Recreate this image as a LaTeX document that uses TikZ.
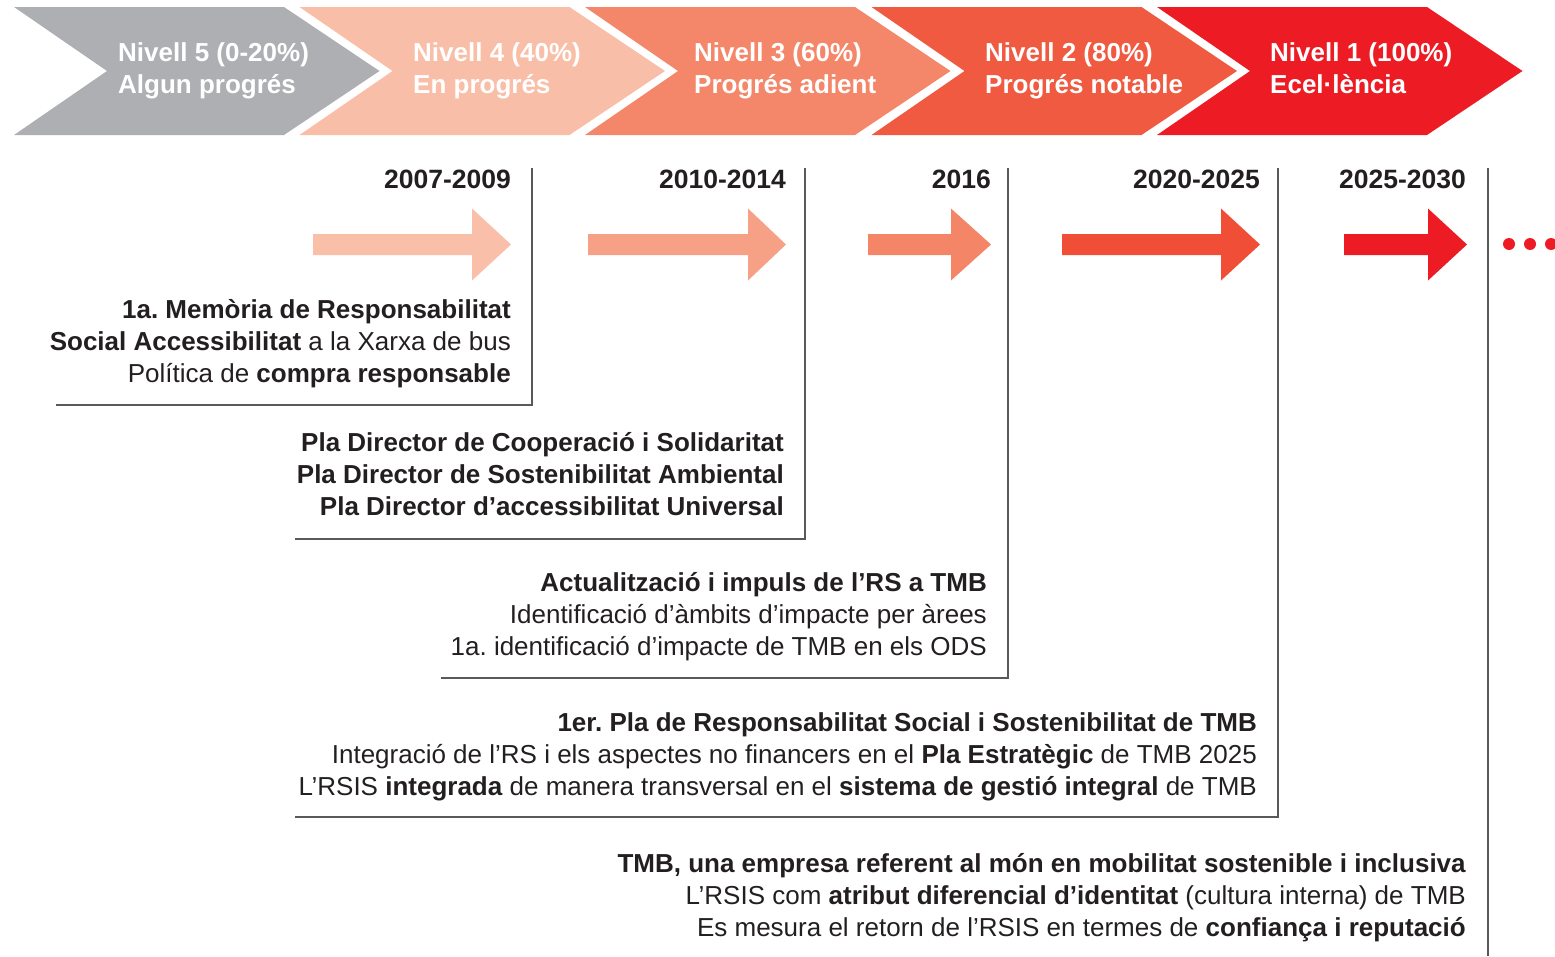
\documentclass[tikz,border=0pt]{standalone}
\usepackage{fontspec}
\setmainfont{Liberation Sans}
\frenchspacing
\definecolor{cgrey}{HTML}{AEAFB2}
\definecolor{cpeach}{HTML}{F9BEA7}
\definecolor{csalmon}{HTML}{F48769}
\definecolor{corange}{HTML}{F05A40}
\definecolor{cred}{HTML}{ED1C24}
\definecolor{aone}{HTML}{F9BFA8}
\definecolor{atwo}{HTML}{F6A186}
\definecolor{athree}{HTML}{F58567}
\definecolor{afour}{HTML}{F04E37}
\definecolor{afive}{HTML}{ED1C24}
\definecolor{ink}{HTML}{231F20}
\definecolor{rule}{HTML}{58595B}
\tikzset{
  levtext/.style={anchor=base west, inner sep=0pt, text=white, font=\fontsize{26}{32}\selectfont\bfseries},
  yeartext/.style={anchor=base east, inner sep=0pt, text=ink, font=\fontsize{26.5}{32}\selectfont\bfseries},
  bodytext/.style={anchor=base east, inner sep=0pt, text=ink, font=\fontsize{26}{32}\selectfont\frenchspacing},
  rulerline/.style={draw=rule, line width=1.4pt},
}
\newcommand{\chev}[2]{%
  \fill[#2] (#1,7) -- ++(270,0) -- ++(95.5,64) -- ++(-95.5,64) -- ++(-270,0) -- ++(93,-64) -- cycle;}
\newcommand{\arr}[4]{% left, headstart, tip, colour
  \fill[#4] (#1,234) -- (#2,234) -- (#2,208.5) -- (#3,244.5) -- (#2,280.5) -- (#2,255) -- (#1,255) -- cycle;}
\begin{document}
\begin{tikzpicture}[x=1pt,y=-1pt]
\useasboundingbox (0,0) rectangle (1555,956);
% chevrons
\chev{14}{cgrey}
\chev{299.5}{cpeach}
\chev{585}{csalmon}
\chev{871.5}{corange}
\chev{1157}{cred}
\node[levtext] (l5a) at (118,61) {Nivell 5 (0-20\%)};
\node[levtext] (l5b) at (118,93) {Algun progrés};
\node[levtext] (l4a) at (413,61) {Nivell 4 (40\%)};
\node[levtext] (l4b) at (413,93) {En progrés};
\node[levtext] (l3a) at (694,61) {Nivell 3 (60\%)};
\node[levtext] (l3b) at (694,93) {Progrés adient};
\node[levtext] (l2a) at (985,61) {Nivell 2 (80\%)};
\node[levtext] (l2b) at (985,93) {Progrés notable};
\node[levtext] (l1a) at (1270,61) {Nivell 1 (100\%)};
\node[levtext] (l1b) at (1270,93) {Ecel·lència};
% years
\node[yeartext] (y1) at (511,188) {2007-2009};
\node[yeartext] (y2) at (786,188) {2010-2014};
\node[yeartext] (y3) at (991,188) {2016};
\node[yeartext] (y4) at (1260,188) {2020-2025};
\node[yeartext] (y5) at (1466,188) {2025-2030};
% arrows
\arr{313}{472}{511}{aone}
\arr{588}{748}{786}{atwo}
\arr{868}{951}{991}{athree}
\arr{1062}{1221}{1260}{afour}
\arr{1344}{1428}{1467}{afive}
\foreach \cx in {1509,1530,1551} \fill[cred] (\cx,244) circle[radius=6];
% rulers
\coordinate (t1) at (532,168); \coordinate (c1) at (532,405); \coordinate (e1) at (56,405);
\coordinate (t2) at (805,168); \coordinate (c2) at (805,539); \coordinate (e2) at (295,539);
\coordinate (t3) at (1008,168); \coordinate (c3) at (1008,678); \coordinate (e3) at (441,678);
\coordinate (t4) at (1278,168); \coordinate (c4) at (1278,817); \coordinate (e4) at (295,817);
\coordinate (t5) at (1488,168); \coordinate (c5) at (1488,956);
\draw[rulerline] (t1) -- (c1) -- (e1);
\draw[rulerline] (t2) -- (c2) -- (e2);
\draw[rulerline] (t3) -- (c3) -- (e3);
\draw[rulerline] (t4) -- (c4) -- (e4);
\draw[rulerline] (t5) -- (c5);
% block 1
\node[bodytext] (b1a) at (511,318) {\textbf{1a. Memòria de Responsabilitat}};
\node[bodytext] (b1b) at (511,350) {\textbf{Social Accessibilitat} a la Xarxa de bus};
\node[bodytext] (b1c) at (511,382) {Política de \textbf{compra responsable}};
% block 2
\node[bodytext] (b2a) at (784,451) {\textbf{Pla Director de Cooperació i Solidaritat}};
\node[bodytext] (b2b) at (784,483) {\textbf{Pla Director de Sostenibilitat Ambiental}};
\node[bodytext] (b2c) at (784,515) {\textbf{Pla Director d’accessibilitat Universal}};
% block 3
\node[bodytext] (b3a) at (987,591) {\textbf{Actualització i impuls de l’RS a TMB}};
\node[bodytext] (b3b) at (987,623) {Identificació d’àmbits d’impacte per àrees};
\node[bodytext] (b3c) at (987,655) {1a. identificació d’impacte de TMB en els ODS};
% block 4
\node[bodytext] (b4a) at (1257,731) {\textbf{1er. Pla de Responsabilitat Social i Sostenibilitat de TMB}};
\node[bodytext] (b4b) at (1257,763) {Integració de l’RS i els aspectes no financers en el \textbf{Pla Estratègic} de TMB 2025};
\node[bodytext] (b4c) at (1257,795) {L’RSIS \textbf{integrada} de manera transversal en el \textbf{sistema de gestió integral} de TMB};
% block 5
\node[bodytext] (b5a) at (1466,872) {\textbf{TMB, una empresa referent al món en mobilitat sostenible i inclusiva}};
\node[bodytext] (b5b) at (1466,904) {L’RSIS com \textbf{atribut diferencial d’identitat} (cultura interna) de TMB};
\node[bodytext] (b5c) at (1466,936) {Es mesura el retorn de l’RSIS en termes de \textbf{confiança i reputació}};
\end{tikzpicture}
\end{document}
